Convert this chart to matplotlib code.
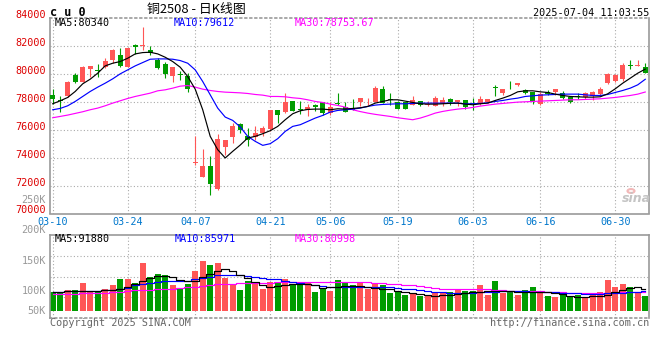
import matplotlib
matplotlib.use("Agg")
import matplotlib.pyplot as plt
from matplotlib.patches import Circle

# trading days 2025-03-10 .. 2025-07-04
dates = ["03-10", "03-11", "03-12", "03-13", "03-14", "03-17", "03-18", "03-19", "03-20", "03-21",
         "03-24", "03-25", "03-26", "03-27", "03-28", "03-31", "04-01", "04-02", "04-03", "04-07",
         "04-08", "04-09", "04-10", "04-11", "04-14", "04-15", "04-16", "04-17", "04-18", "04-21",
         "04-22", "04-23", "04-24", "04-25", "04-28", "04-29", "04-30", "05-06", "05-07", "05-08",
         "05-09", "05-12", "05-13", "05-14", "05-15", "05-16", "05-19", "05-20", "05-21", "05-22",
         "05-23", "05-26", "05-27", "05-28", "05-29", "05-30", "06-03", "06-04", "06-05", "06-06",
         "06-09", "06-10", "06-11", "06-12", "06-13", "06-16", "06-17", "06-18", "06-19", "06-20",
         "06-23", "06-24", "06-25", "06-26", "06-27", "06-30", "07-01", "07-02", "07-03", "07-04"]
tick_dates = ["03-10", "03-24", "04-07", "04-21", "05-06", "05-19", "06-03", "06-16", "06-30"]

opens = [78500, 78143, 78381, 79929, 79405, 80333, 80286, 80524, 81000, 81357,
         80524, 82095, 82000, 81714, 81000, 80714, 79881, 79976, 79857, 73620,
         72595, 73429, 71786, 74762, 75476, 76400, 75571, 75476, 75762, 76048,
         77429, 77262, 78024, 77476, 77429, 77786, 77976, 77190, 77905, 77595,
         77548, 77952, 78095, 77952, 78905, 78190, 77952, 77952, 77786, 78024,
         77786, 77667, 77905, 78190, 77976, 78143, 77905, 77905, 77976, 79048,
         78619, 78929, 79167, 78857, 78667, 77857, 78667, 78667, 78619, 78310,
         78429, 78333, 78381, 78571, 79381, 79500, 79619, 80643, 80571, 80476]
highs = [78905, 78381, 79524, 80048, 80571, 80571, 80714, 81119, 81786, 81833,
         81881, 82143, 83357, 82000, 81119, 80881, 80524, 80214, 80048, 75524,
         74643, 74095, 75714, 75286, 76476, 76450, 76119, 76238, 76286, 77381,
         77429, 78619, 78024, 78024, 77833, 77833, 77976, 77952, 78619, 77976,
         78214, 78262, 78262, 79095, 79143, 78619, 78024, 78000, 78381, 78024,
         78024, 78429, 78333, 78262, 78143, 78143, 78262, 78429, 78190, 79214,
         78929, 79500, 79381, 78929, 78667, 78667, 78810, 78905, 78738, 78429,
         78619, 78667, 78786, 79024, 80095, 80000, 80762, 81000, 81000, 80762]
lows = [77857, 77262, 78333, 79333, 79405, 79810, 79810, 80452, 80810, 80524,
        80524, 81429, 81714, 81357, 80357, 79738, 79452, 79571, 78667, 73500,
        72595, 71310, 71667, 74214, 75048, 75750, 74857, 75286, 75524, 75881,
        76476, 77190, 77310, 77119, 77000, 77310, 77071, 77071, 77786, 77262,
        77429, 77667, 77786, 77952, 77905, 77786, 77500, 77450, 77786, 77667,
        77667, 77667, 77667, 77786, 77714, 77476, 77381, 77786, 77900, 78381,
        78452, 78905, 79095, 78548, 77833, 77786, 78452, 78500, 78190, 77905,
        78214, 78190, 78095, 78500, 79286, 79405, 79524, 80333, 80571, 80048]
closes = [78214, 78024, 79452, 79452, 80476, 80571, 80238, 80929, 81714, 80595,
          81881, 81905, 82050, 81524, 80452, 79976, 80524, 79929, 78905, 73650,
          73429, 72119, 75357, 75286, 76286, 75950, 75238, 75762, 76119, 77381,
          77071, 77952, 77310, 77429, 77619, 77619, 77190, 77619, 77833, 77262,
          77429, 78262, 78143, 78976, 77905, 78095, 77500, 77500, 78143, 77786,
          77857, 78262, 78143, 77952, 78143, 77619, 77833, 78190, 78190, 78976,
          78929, 78905, 79381, 78619, 78024, 78571, 78571, 78905, 78262, 77976,
          78333, 78619, 78690, 78905, 79976, 79929, 80643, 80571, 80595, 80095]

ma5 = [77857, 78071, 78310, 78738, 79286, 79619, 80048, 80571, 80762, 80881,
       81119, 81429, 81524, 81548, 81429, 81190, 80881, 80476, 79810, 78905,
       77429, 75524, 74571, 73976, 74452, 74900, 75405, 75524, 75714, 75929,
       76238, 76714, 77143, 77357, 77452, 77476, 77476, 77429, 77500, 77476,
       77524, 77571, 77667, 77905, 78024, 78143, 78143, 78048, 77952, 77857,
       77833, 77833, 77857, 77890, 77905, 77833, 77786, 77857, 77905, 78095,
       78262, 78452, 78714, 78786, 78786, 78714, 78667, 78548, 78452, 78381,
       78357, 78333, 78333, 78357, 78571, 78929, 79333, 79690, 80048, 80340]
ma10 = [77429, 77524, 77714, 78024, 78381, 78738, 79048, 79333, 79643, 80000,
        80286, 80571, 80810, 81048, 81071, 81071, 81048, 80952, 80762, 80286,
        79452, 78500, 77548, 76905, 76667, 76200, 75524, 75167, 74881, 75000,
        75357, 75881, 76238, 76357, 76595, 76833, 77024, 77262, 77381, 77429,
        77476, 77548, 77667, 77762, 77810, 77833, 77857, 77857, 77881, 77905,
        77905, 77905, 77905, 77917, 77900, 77857, 77857, 77881, 77929, 78024,
        78095, 78190, 78262, 78381, 78429, 78476, 78500, 78524, 78548, 78548,
        78548, 78500, 78452, 78452, 78524, 78667, 78810, 78976, 79214, 79612]
ma30 = [76857, 76952, 77048, 77167, 77286, 77429, 77548, 77714, 77905, 78071,
        78238, 78381, 78500, 78619, 78786, 78857, 78976, 79119, 79167, 79048,
        78905, 78810, 78738, 78690, 78667, 78640, 78595, 78524, 78476, 78381,
        78381, 78357, 78286, 78238, 78143, 78024, 77952, 77833, 77738, 77619,
        77430, 77300, 77190, 77100, 77024, 76952, 76857, 76786, 76714, 76833,
        77000, 77190, 77310, 77400, 77476, 77524, 77595, 77690, 77762, 77833,
        77881, 77929, 77976, 78000, 78024, 78048, 78071, 78095, 78119, 78143,
        78143, 78167, 78190, 78214, 78262, 78310, 78381, 78452, 78548, 78700]

# volume (K lots)
vol = [81.9, 81.9, 89.1, 89.1, 120.6, 84.8, 84.8, 93.4, 110.6, 136.3,
       136.3, 120.6, 206.6, 143.5, 159.3, 153.5, 110.6, 96.2, 114.9, 172.2,
       213.7, 198.0, 206.6, 140.6, 110.6, 89.1, 129.2, 117.7, 94.8, 124.9,
       122.0, 136.3, 110.6, 110.6, 117.7, 81.9, 93.4, 86.2, 132.0, 120.6,
       110.6, 124.9, 93.4, 114.9, 110.6, 77.6, 86.2, 67.6, 71.9, 63.3,
       63.3, 74.7, 74.7, 79.0, 89.1, 84.8, 86.2, 110.6, 67.6, 127.8,
       77.6, 84.8, 67.6, 89.1, 100.5, 77.6, 64.7, 60.4, 70.4, 64.7,
       67.6, 56.1, 74.7, 79.0, 132.0, 100.5, 114.9, 100.5, 81.9, 63.3]
vol_ma5 = [80.5, 81.9, 83.3, 84.8, 84.8, 84.8, 84.8, 87.6, 90.5, 94.8,
           101.9, 114.9, 129.2, 142.1, 147.8, 149.2, 146.4, 132.0, 127.8, 127.8,
           143.5, 156.4, 172.2, 177.9, 172.2, 153.5, 139.2, 124.9, 110.6, 103.4,
           106.3, 109.1, 113.4, 113.4, 113.4, 110.6, 99.1, 100.5, 103.4, 104.8,
           106.3, 106.3, 102.0, 96.2, 93.4, 91.9, 86.2, 80.5, 74.7, 70.4,
           66.1, 64.7, 66.1, 69.0, 73.3, 77.6, 80.5, 81.9, 83.3, 84.8,
           84.8, 83.3, 80.5, 79.0, 81.9, 81.9, 79.0, 74.7, 70.4, 64.7,
           60.4, 57.5, 61.8, 64.7, 69.0, 80.5, 89.1, 96.2, 100.5, 92.0]
vol_ma10 = [81.9, 81.9, 83.3, 83.3, 84.8, 84.8, 86.2, 87.6, 89.1, 91.9,
            97.7, 110.6, 116.3, 120.6, 124.9, 127.8, 129.2, 129.2, 129.2, 134.9,
            140.6, 146.4, 152.1, 153.5, 153.5, 153.5, 149.2, 143.5, 139.2, 137.8,
            134.9, 129.2, 123.5, 117.7, 113.4, 110.6, 106.3, 100.5, 102.0, 103.4,
            103.4, 103.4, 103.4, 103.4, 102.0, 100.5, 97.7, 94.8, 91.9, 89.1,
            84.8, 81.9, 79.0, 76.2, 74.7, 74.7, 76.2, 79.0, 80.5, 81.9,
            83.3, 84.8, 84.8, 83.3, 81.9, 81.9, 80.5, 79.0, 77.6, 76.2,
            74.7, 73.3, 71.9, 73.3, 74.7, 74.7, 76.2, 79.0, 81.9, 85.9]
vol_ma30 = [71.9, 71.9, 73.3, 73.3, 74.7, 74.7, 76.2, 77.6, 79.0, 81.9,
            84.8, 87.6, 89.1, 90.5, 91.9, 93.4, 94.8, 96.2, 100.5, 103.4,
            107.7, 112.0, 114.9, 116.3, 116.3, 117.7, 117.7, 119.2, 120.6, 120.6,
            122.0, 122.0, 123.5, 123.5, 124.9, 124.9, 124.9, 124.9, 124.9, 124.9,
            124.9, 123.5, 122.0, 120.6, 119.2, 116.3, 114.9, 112.0, 110.6, 107.7,
            103.4, 99.1, 93.4, 93.4, 92.0, 92.0, 92.0, 92.0, 92.0, 90.5,
            87.6, 86.2, 86.2, 84.8, 84.8, 83.3, 81.9, 80.5, 79.0, 77.6,
            77.6, 77.6, 77.6, 77.6, 77.6, 79.0, 79.0, 80.5, 81.9, 81.0]

price_ticks = [84000, 82000, 80000, 78000, 76000, 74000, 72000, 70000]
vol_labels = ["250K", "200K", "150K", "100K", "50K"]
vol_label_y = [200, 230, 261, 291, 310.5]   # pixel rows, as sina draws them

RED = "#ff5656"
GREEN = "#009c00"
GRID = "#aaaaaa"
MONO = "DejaVu Sans Mono"
W, H = 660, 360


def box(l, t, r, b):
    return [l / W, 1 - b / H, (r - l) / W, (b - t) / H]


x = list(range(len(dates)))
up = [c >= o for o, c in zip(opens, closes)]
cols = [RED if u else GREEN for u in up]
tick_idx = [dates.index(d) for d in tick_dates]

fig = plt.figure(figsize=(6.6, 3.6), dpi=100)
ax = fig.add_axes(box(50, 18, 649, 213.5))
axv = fig.add_axes(box(50, 234.7, 649, 318.3))

for a in (ax, axv):
    a.set_xlim(-0.36, 79.5)
    a.set_xticks(tick_idx)
    a.set_axisbelow(True)
    a.grid(True, color=GRID, linestyle=(0, (1, 2)), linewidth=0.8)
    a.tick_params(length=0, labelleft=False, labelbottom=False)
    for s in a.spines.values():
        s.set_color("#999999")
        s.set_linewidth(1.2)

# price panel
ax.set_ylim(70000, 84000)
ax.set_yticks(price_ticks[1:-1])
ax.spines["top"].set_linestyle((0, (1, 2)))
ax.vlines(x, lows, highs, colors=cols, linewidth=0.8, zorder=2)
body_lo = [min(o, c) for o, c in zip(opens, closes)]
body_h = [max(abs(c - o), 40) for o, c in zip(opens, closes)]
ax.bar(x, body_h, bottom=body_lo, width=0.66, color=cols, linewidth=0, zorder=3)
ax.plot(x, ma30, color="#ff00ff", lw=0.85, zorder=4)
ax.plot(x, ma10, color="#0000ff", lw=0.85, zorder=4)
ax.plot(x, ma5, color="black", lw=0.85, zorder=5)

ytr = ax.get_yaxis_transform()
for p in price_ticks:
    ax.text(-0.007, p, str(p), transform=ytr, ha="right", va="baseline",
            color="#dd0000", fontsize=7.3, family=MONO, clip_on=False)
xtr = ax.get_xaxis_transform()
for i, d in zip(tick_idx, tick_dates):
    ax.text(i, -0.043, d, transform=xtr, ha="center", va="center",
            color="#0077cc", fontsize=7.3, family=MONO, clip_on=False)

# volume panel
lo, hi = -32.7, 326.8
axv.set_ylim(lo, hi)
axv.set_yticks([lo + (hi - lo) * k / 4 for k in (1, 2, 3)])
axv.spines["bottom"].set_linestyle((0, (1, 2)))
axv.bar(x, vol, width=0.8, color=cols, linewidth=0, zorder=2)
axv.plot(x, vol_ma30, color="#ff00ff", lw=0.85, drawstyle="steps-mid", zorder=3)
axv.plot(x, vol_ma10, color="#0000ff", lw=0.85, drawstyle="steps-mid", zorder=3)
axv.plot(x, vol_ma5, color="black", lw=0.85, drawstyle="steps-mid", zorder=4)

for lab, yy in zip(vol_labels, vol_label_y):
    fig.text(46 / W, 1 - yy / H, lab, ha="right", va="center",
             color="#999999", fontsize=7.3, family=MONO)

# header / legends
fig.text(50 / W, 1 - 12 / H, "c u 0", ha="left", va="center",
         fontsize=8.5, fontweight="bold", family=MONO)
fig.text(196 / W, 1 - 10 / H, "铜2508 - 日K线图", ha="center", va="center",
         fontsize=9.3, family=["Noto Sans CJK SC", "DejaVu Sans"])
fig.text(649 / W, 1 - 12.5 / H, "2025-07-04 11:03:55", ha="right", va="center",
         fontsize=7.3, family=MONO)

for yy, items in ((23.5, [("MA5:80340", "black", 55), ("MA10:79612", "#0000ff", 174),
                          ("MA30:78753.67", "#ff00ff", 295)]),
                  (238.5, [("MA5:91880", "black", 55), ("MA10:85971", "#0000ff", 175),
                           ("MA30:80998", "#ff00ff", 295)])):
    for txt, c, xx in items:
        fig.text(xx / W, 1 - yy / H, txt, ha="left", va="center",
                 color=c, fontsize=7.3, family=MONO)

fig.text(50 / W, 1 - 323.5 / H, "Copyright 2025 SINA.COM", ha="left", va="center",
         color="#666666", fontsize=7.3, family=MONO)
fig.text(649 / W, 1 - 323.5 / H, "http://finance.sina.com.cn", ha="right", va="center",
         color="#666666", fontsize=7.3, family=MONO)

# sina watermark
fig.patches.append(Circle((631 / W, 1 - 191 / H), 3.5 / W, transform=fig.transFigure,
                          facecolor="none", edgecolor="#f2b8b8", linewidth=1.5))
fig.text(636 / W, 1 - 198.5 / H, "sina", ha="center", va="center", color="#c4c4c4",
         fontsize=9, fontstyle="italic", fontweight="bold")

fig.savefig("out.png", dpi=100)
